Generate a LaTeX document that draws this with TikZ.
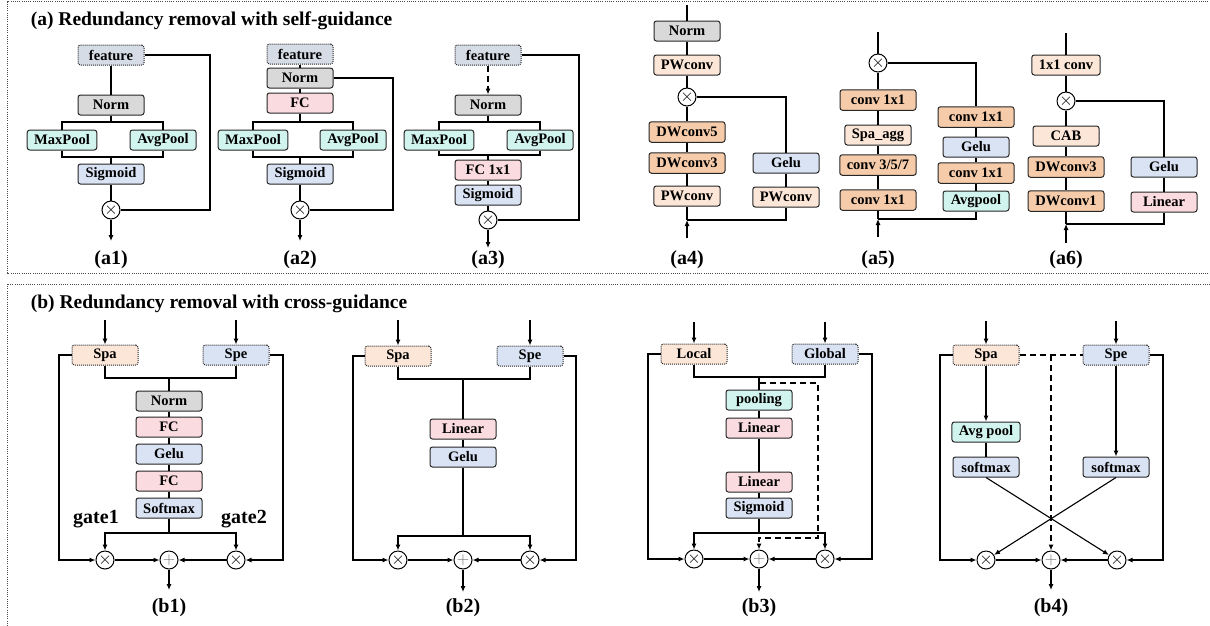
\documentclass[tikz,border=0pt]{standalone}
\usepackage{fontspec}
\setmainfont{Liberation Serif}
\usetikzlibrary{arrows.meta}
\tikzset{>={Latex[length=6pt,width=5pt]}}
\definecolor{normgray}{HTML}{D9D9D9}
\definecolor{featblue}{HTML}{D6DCE5}
\definecolor{fcpink}{HTML}{FADBE0}
\definecolor{gelublue}{HTML}{DAE3F3}
\definecolor{poolcyan}{HTML}{D2F4EE}
\definecolor{pwpeach}{HTML}{FCE6D7}
\definecolor{dwpeach}{HTML}{F5CBAA}

\begin{document}
\begin{tikzpicture}[x=1pt,y=-1pt,line width=1.1pt,
    box/.style={draw=black!85,line width=1pt,rounded corners=2.5pt,minimum width=66pt,minimum height=20pt,inner xsep=7pt,inner ysep=1pt,font=\fontsize{14.5}{16}\selectfont\bfseries},
    feat/.style={box,fill=featblue,densely dotted},
    normbox/.style={box,fill=normgray},
    fcbox/.style={box,fill=fcpink},
    gelubox/.style={box,fill=gelublue},
    poolbox/.style={box,fill=poolcyan},
    pwbox/.style={box,fill=pwpeach},
    dwbox/.style={box,fill=dwpeach,minimum width=76pt,minimum height=20.5pt},
    spabox/.style={box,fill=pwpeach,densely dotted},
    spebox/.style={box,fill=gelublue,densely dotted},
    mul/.style={draw,circle,fill=white,line width=1pt,minimum size=18pt,inner sep=0pt,font=\fontsize{17}{17}\selectfont},
    lbl/.style={font=\fontsize{20}{22}\selectfont\bfseries,anchor=base},
    gatelbl/.style={font=\fontsize{20}{22}\selectfont\bfseries,anchor=base},
    ttl/.style={font=\fontsize{19.5}{22}\selectfont\bfseries,anchor=base west},
    frame/.style={draw=black!70,line width=0.9pt,dash pattern=on 1pt off 1.2pt},
    dash6/.style={dash pattern=on 6pt off 4pt},
  ]
  \useasboundingbox (0,0) rectangle (1210,625);
  \clip (0,0) rectangle (1210,625);
  \draw[frame] (7,1.5) rectangle (1225,273);
  \draw[frame] (7,284) rectangle (1225,640);
  \node[ttl] (ta) at (27,25) {(a) Redundancy removal with self-guidance};
  \node[ttl] (tb) at (27,308.5) {(b) Redundancy removal with cross-guidance};

  % (a1)
  \node[feat] (fa1) at (111,55) {feature};
  \node[normbox] (na1) at (111,105) {Norm};
  \node[poolbox] (mxa1) at (62,140) {MaxPool};
  \node[poolbox] (ava1) at (163,140) {AvgPool};
  \node[gelubox] (sga1) at (111,174) {Sigmoid};
  \node[mul] (xa1) at (111,210) {$\times$};
  \coordinate (sa1) at (111,122);
  \coordinate (ja1) at (111,157);
  \coordinate (ra1) at (210,210);
  \coordinate (oa1) at (111,241);
  \node[lbl] (la1) at (111,264) {(a1)};
  \draw (fa1) -- (na1) -- (sa1);
  \draw (mxa1) |- (sa1) -| (ava1);
  \draw (mxa1) |- (ja1) -| (ava1);
  \draw (ja1) -- (sga1) -- (xa1);
  \draw (fa1.east) -| (ra1) -- (xa1);
  \draw[->] (xa1) -- (oa1);

  % (a2)
  \node[feat] (fa2) at (300,54) {feature};
  \node[normbox] (na2) at (300,78) {Norm};
  \node[fcbox] (fca2) at (300,103) {FC};
  \node[poolbox] (mxa2) at (253,140) {MaxPool};
  \node[poolbox] (ava2) at (353,140) {AvgPool};
  \node[gelubox] (sga2) at (300,174) {Sigmoid};
  \node[mul] (xa2) at (300,210) {$\times$};
  \coordinate (sa2) at (300,122);
  \coordinate (ja2) at (300,157);
  \coordinate (ra2) at (393,210);
  \coordinate (oa2) at (300,241);
  \node[lbl] (la2) at (300,264) {(a2)};
  \draw (fa2) -- (na2) -- (fca2) -- (sa2);
  \draw (mxa2) |- (sa2) -| (ava2);
  \draw (mxa2) |- (ja2) -| (ava2);
  \draw (ja2) -- (sga2) -- (xa2);
  \draw (na2.east) -| (ra2) -- (xa2);
  \draw[->] (xa2) -- (oa2);

  % (a3)
  \node[feat] (fa3) at (488,55) {feature};
  \node[normbox] (na3) at (488,105) {Norm};
  \node[poolbox] (mxa3) at (439,140) {MaxPool};
  \node[poolbox] (ava3) at (540,140) {AvgPool};
  \node[fcbox] (fca3) at (488,170) {FC 1x1};
  \node[gelubox] (sga3) at (488,195) {Sigmoid};
  \node[mul] (xa3) at (488,220) {$\times$};
  \coordinate (sa3) at (488,122);
  \coordinate (ja3) at (488,155);
  \coordinate (ra3) at (579,220);
  \coordinate (oa3) at (488,248);
  \node[lbl] (la3) at (488,264) {(a3)};
  \draw[->,dash6] (fa3) -- (na3);
  \draw (na3) -- (sa3);
  \draw (mxa3) |- (sa3) -| (ava3);
  \draw (mxa3) |- (ja3) -| (ava3);
  \draw (ja3) -- (fca3) -- (sga3) -- (xa3);
  \draw (fa3.east) -| (ra3) -- (xa3);
  \draw[->] (xa3) -- (oa3);

  % (a4)
  \coordinate (ta4) at (687,5);
  \node[normbox] (na4) at (687,31) {Norm};
  \node[pwbox] (pwa4) at (687,65) {PWconv};
  \node[mul] (xa4) at (687,97) {$\times$};
  \node[dwbox] (dwa4) at (687,132) {DWconv5};
  \node[dwbox] (dwb4) at (687,163) {DWconv3};
  \node[pwbox] (pwb4) at (687,196) {PWconv};
  \node[gelubox] (gea4) at (786,163) {Gelu};
  \node[pwbox] (pwc4) at (786,197) {PWconv};
  \coordinate (ja4) at (687,220);
  \coordinate (ia4) at (687,238);
  \node[lbl] (la4) at (687,264) {(a4)};
  \draw (ta4) -- (na4) -- (pwa4) -- (xa4) -- (dwa4) -- (dwb4) -- (pwb4) -- (ja4);
  \draw (xa4) -| (gea4) -- (pwc4);
  \draw (ja4) -| (pwc4);
  \draw[->] (ia4) -- (ja4);

  % (a5)
  \coordinate (ta5) at (878,32);
  \node[mul] (xa5) at (878,63) {$\times$};
  \node[dwbox] (cva5) at (878,100) {conv 1x1};
  \node[pwbox] (sag5) at (878,135) {Spa\_agg};
  \node[dwbox] (cvb5) at (878,165) {conv 3/5/7};
  \node[dwbox] (cvc5) at (878,200) {conv 1x1};
  \node[dwbox] (cvd5) at (976,117) {conv 1x1};
  \node[gelubox] (gea5) at (976,147) {Gelu};
  \node[dwbox] (cve5) at (976,173) {conv 1x1};
  \node[poolbox] (avp5) at (976,201) {Avgpool};
  \coordinate (ja5) at (878,219);
  \coordinate (ia5) at (878,237);
  \node[lbl] (la5) at (878,264) {(a5)};
  \draw (ta5) -- (xa5) -- (cva5) -- (sag5) -- (cvb5) -- (cvc5) -- (ja5);
  \draw (xa5) -| (cvd5) -- (gea5) -- (cve5) -- (avp5);
  \draw (ja5) -| (avp5);
  \draw[->] (ia5) -- (ja5);

  % (a6)
  \coordinate (ta6) at (1066,33);
  \node[pwbox] (cv6) at (1066,65) {1x1 conv};
  \node[mul] (xa6) at (1066,101) {$\times$};
  \node[pwbox] (cab6) at (1066,136) {CAB};
  \node[dwbox] (dwa6) at (1066,167) {DWconv3};
  \node[dwbox] (dwb6) at (1066,201) {DWconv1};
  \node[gelubox] (gea6) at (1164,167) {Gelu};
  \node[fcbox] (lin6) at (1164,202) {Linear};
  \coordinate (ja6) at (1066,224);
  \coordinate (ia6) at (1066,243);
  \node[lbl] (la6) at (1066,264) {(a6)};
  \draw (ta6) -- (cv6) -- (xa6) -- (cab6) -- (dwa6) -- (dwb6) -- (ja6);
  \draw (xa6) -| (gea6) -- (lin6);
  \draw (ja6) -| (lin6);
  \draw[->] (ia6) -- (ja6);

  % (b1)
  \node[spabox] (spa1) at (105,355) {Spa};
  \node[spebox] (spe1) at (236,355) {Spe};
  \coordinate (ia1) at (105,320);
  \coordinate (ib1) at (236,320);
  \coordinate (c1) at (169,378);
  \node[normbox] (nb1) at (169,401) {Norm};
  \node[fcbox] (fcb1) at (169,427) {FC};
  \node[gelubox] (geb1) at (169,454) {Gelu};
  \node[fcbox] (fcc1) at (169,481) {FC};
  \node[gelubox] (smb1) at (169,508) {Softmax};
  \coordinate (d1) at (169,533);
  \node[mul] (xb1) at (105,560) {$\times$};
  \node[mul] (pb1) at (169,560) {\color{black!55}$+$};
  \node[mul] (xc1) at (236,560) {$\times$};
  \coordinate (w1) at (59,560);
  \coordinate (e1) at (283,560);
  \coordinate (ob1) at (169,590);
  \node[gatelbl] (g1) at (96,523) {gate1};
  \node[gatelbl] (g2) at (244,523) {gate2};
  \node[lbl] (lb1) at (169,612) {(b1)};
  \draw[->] (ia1) -- (spa1);
  \draw[->] (ib1) -- (spe1);
  \draw (spa1) |- (c1) -| (spe1);
  \draw (c1) -- (nb1) -- (fcb1) -- (geb1) -- (fcc1) -- (smb1) -- (d1);
  \draw[->] (d1) -| (xb1);
  \draw[->] (d1) -| (xc1);
  \draw[->] (spa1.west) -| (w1) -- (xb1);
  \draw[->] (spe1.east) -| (e1) -- (xc1);
  \draw[->] (xb1) -- (pb1);
  \draw[->] (xc1) -- (pb1);
  \draw[->] (pb1) -- (ob1);

  % (b2)
  \node[spabox] (spa2) at (398,356) {Spa};
  \node[spebox] (spe2) at (530,356) {Spe};
  \coordinate (ia2) at (398,320);
  \coordinate (ib2) at (530,320);
  \coordinate (c2) at (463,379);
  \node[fcbox] (lib2) at (463,429) {Linear};
  \node[gelubox] (geb2) at (463,457) {Gelu};
  \coordinate (d2) at (463,536);
  \node[mul] (xb2) at (398,560) {$\times$};
  \node[mul] (pb2) at (463,560) {\color{black!55}$+$};
  \node[mul] (xc2) at (530,560) {$\times$};
  \coordinate (w2) at (353,560);
  \coordinate (e2) at (576,560);
  \coordinate (ob2) at (463,592);
  \node[lbl] (lb2) at (463,612) {(b2)};
  \draw[->] (ia2) -- (spa2);
  \draw[->] (ib2) -- (spe2);
  \draw (spa2) |- (c2) -| (spe2);
  \draw (c2) -- (lib2) -- (geb2) -- (d2);
  \draw[->] (d2) -| (xb2);
  \draw[->] (d2) -| (xc2);
  \draw[->] (spa2.west) -| (w2) -- (xb2);
  \draw[->] (spe2.east) -| (e2) -- (xc2);
  \draw[->] (xb2) -- (pb2);
  \draw[->] (xc2) -- (pb2);
  \draw[->] (pb2) -- (ob2);

  % (b3)
  \node[spabox] (loc3) at (694,354) {Local};
  \node[spebox] (glo3) at (825,354) {Global};
  \coordinate (ia3) at (694,322);
  \coordinate (ib3) at (825,322);
  \coordinate (c3) at (759,377);
  \node[poolbox] (pob3) at (759,400) {pooling};
  \node[fcbox] (lia3) at (759,428) {Linear};
  \node[fcbox] (lib3) at (759,482) {Linear};
  \node[gelubox] (sgb3) at (759,508) {Sigmoid};
  \coordinate (d3) at (759,533);
  \node[mul] (xb3) at (694,559) {$\times$};
  \node[mul] (pb3) at (759,559) {\color{black!55}$+$};
  \node[mul] (xc3) at (825,559) {$\times$};
  \coordinate (w3) at (648,559);
  \coordinate (e3) at (872,559);
  \coordinate (qa3) at (760,383);
  \coordinate (qb3) at (818,538);
  \coordinate (qc3) at (759,538);
  \coordinate (ob3) at (759,592);
  \node[lbl] (lb3) at (759,612) {(b3)};
  \draw[->] (ia3) -- (loc3);
  \draw[->] (ib3) -- (glo3);
  \draw (loc3) |- (c3) -| (glo3);
  \draw (c3) -- (pob3) -- (lia3) -- (lib3) -- (sgb3) -- (d3);
  \draw[->] (d3) -| (xb3);
  \draw[->] (d3) -| (xc3);
  \draw[->,dash6] (qa3) -| (qb3) -- (qc3) -- (pb3);
  \draw[->] (loc3.west) -| (w3) -- (xb3);
  \draw[->] (glo3.east) -| (e3) -- (xc3);
  \draw[->] (xb3) -- (pb3);
  \draw[->] (xc3) -- (pb3);
  \draw[->] (pb3) -- (ob3);

  % (b4)
  \node[spabox] (spa4) at (986,355) {Spa};
  \node[spebox] (spe4) at (1116,355) {Spe};
  \coordinate (ia4) at (986,321);
  \coordinate (ib4) at (1116,321);
  \coordinate (k4) at (1051,355);
  \node[poolbox] (avb4) at (986,432) {Avg pool};
  \node[gelubox] (sma4) at (986,467) {softmax};
  \node[gelubox] (smb4) at (1116,467) {softmax};
  \node[mul] (xb4) at (986,560) {$\times$};
  \node[mul] (pb4) at (1051,560) {\color{black!55}$+$};
  \node[mul] (xc4) at (1117,560) {$\times$};
  \coordinate (w4) at (940,560);
  \coordinate (e4) at (1163,560);
  \coordinate (ob4) at (1051,590);
  \node[lbl] (lb4) at (1051,612) {(b4)};
  \draw[->] (ia4) -- (spa4);
  \draw[->] (ib4) -- (spe4);
  \draw[dash6] (spa4) -- (spe4);
  \draw[->,dash6] (k4) -- (pb4);
  \draw[->] (spa4) -- (avb4);
  \draw[line width=1.6pt] (avb4) -- (sma4);
  \draw[->] (spe4) -- (smb4);
  \draw[->] (sma4.south) -- (xc4);
  \draw[->] (smb4.south) -- (xb4);
  \draw[->] (spa4.west) -| (w4) -- (xb4);
  \draw[->] (spe4.east) -| (e4) -- (xc4);
  \draw[->] (xb4) -- (pb4);
  \draw[->] (xc4) -- (pb4);
  \draw[->] (pb4) -- (ob4);
\end{tikzpicture}
\end{document}
